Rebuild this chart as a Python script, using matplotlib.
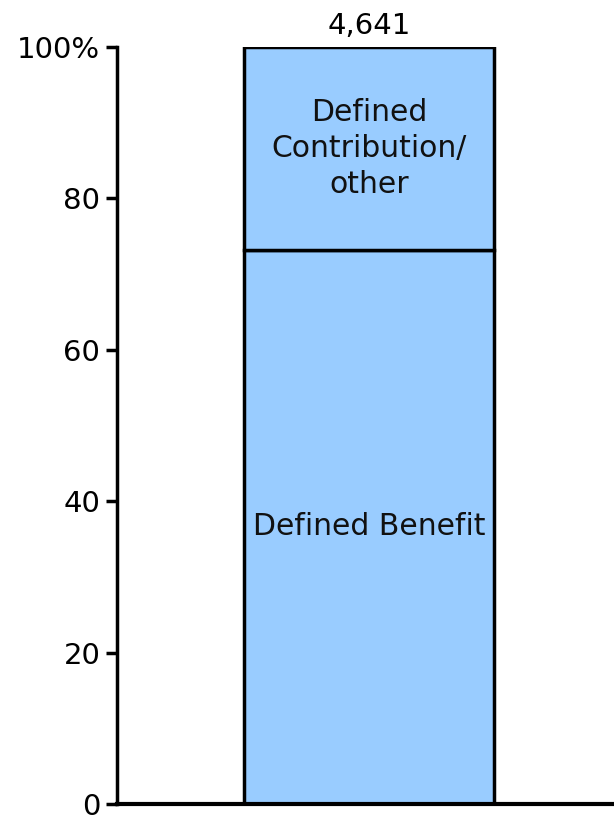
import matplotlib.pyplot as plt

# share of plan participants, percent
segments = ['Defined Benefit', 'Defined\nContribution/\nother']
shares = [73.2, 26.8]
total_label = '4,641'
yticks = [0, 20, 40, 60, 80, 100]
ytick_labels = ['0', '20', '40', '60', '80', '100%']

BAR_COLOR = '#99ccff'

fig = plt.figure(figsize=(6.14, 8.16), dpi=100)
ax = fig.add_axes([117/614, 12/816, 497/614, 757/816])

bottom = 0
for name, val in zip(segments, shares):
    ax.bar(0, val, width=0.5, bottom=bottom, color=BAR_COLOR,
           edgecolor='black', linewidth=2.5, zorder=2)
    ax.text(0, bottom + val/2, name, ha='center', va='center',
            fontsize=21.5, linespacing=1.32, color='#111111')
    bottom += val

ax.text(0, bottom + 1.7, total_label, ha='center', va='baseline', fontsize=21)

ax.set_xlim(-0.504, 0.49)
ax.set_ylim(0, 100)
ax.set_yticks(yticks)
ax.set_yticklabels(ytick_labels, fontsize=21)
ax.set_xticks([])
ax.tick_params(axis='y', length=8, width=2.5, pad=4)

for s in ['top', 'right']:
    ax.spines[s].set_visible(False)
ax.spines['left'].set_linewidth(2.5)
ax.spines['bottom'].set_linewidth(3)
ax.spines['left'].set_zorder(3)
ax.spines['bottom'].set_zorder(3)

plt.savefig('out.png', dpi=100)
